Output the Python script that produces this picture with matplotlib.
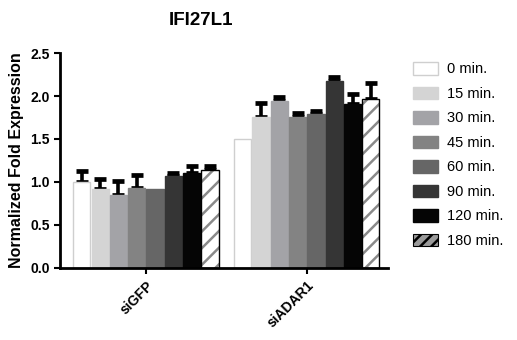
import numpy as np
import matplotlib
matplotlib.use("Agg")
import matplotlib.pyplot as plt
from matplotlib.patches import Patch

plt.rcParams["font.family"] = ["Liberation Sans", "DejaVu Sans"]
plt.rcParams["font.weight"] = "bold"
plt.rcParams["hatch.linewidth"] = 1.8

groups = ["siGFP", "siADAR1"]
timepoints = ["0 min.", "15 min.", "30 min.", "45 min.", "60 min.",
              "90 min.", "120 min.", "180 min."]

# fold expression per timepoint, one entry per group
means = [
    [1.00, 1.50],
    [0.92, 1.76],
    [0.85, 1.94],
    [0.93, 1.76],
    [0.92, 1.79],
    [1.07, 2.17],
    [1.11, 1.91],
    [1.14, 1.97],
]
errors = [
    [0.13, 0.00],
    [0.11, 0.16],
    [0.16, 0.05],
    [0.15, 0.04],
    [0.00, 0.03],
    [0.04, 0.05],
    [0.07, 0.11],
    [0.05, 0.18],
]

faces = ["white", "#d4d4d4", "#a3a3a7", "#838383", "#666666",
         "#353535", "#050505", "white"]
edges = ["#cfcfcf", "#d4d4d4", "#a3a3a7", "#838383", "#666666",
         "#353535", "#050505", "black"]

fig = plt.figure(figsize=(5.17, 3.40), dpi=100)
ax = fig.add_axes([0.116, 0.212, 0.634, 0.632])

step = 0.1137
x = np.arange(len(groups))
for i, (m, e) in enumerate(zip(means, errors)):
    pos = x - 3.5 * step + i * step
    if i == len(means) - 1:
        # hatched last series: gray stripes on white, dark outline
        ax.bar(pos, m, width=step * 0.94, color="white", edgecolor="#8a8a8a",
               hatch="//", linewidth=0, zorder=2)
        ax.bar(pos, m, width=step * 0.94, color="none", edgecolor="black",
               linewidth=1.0, zorder=3)
    else:
        ax.bar(pos, m, width=step * 0.94, color=faces[i], edgecolor=edges[i],
               linewidth=1.0, zorder=2)
    # upward-only error bars: drawn under the bars so the lower cap hides
    e = np.asarray(e)
    keep = e > 0
    ax.errorbar(pos[keep], np.asarray(m)[keep],
                yerr=[np.zeros(keep.sum()), e[keep]], fmt="none",
                ecolor="black", elinewidth=2.6, capsize=4.5, capthick=3.4,
                zorder=1)

ax.set_xlim(-0.534, 1.503)
ax.set_ylim(0, 2.5)
ax.set_yticks([0.0, 0.5, 1.0, 1.5, 2.0, 2.5])
ax.set_yticklabels([f"{v:.1f}" for v in ax.get_yticks()], fontsize=10,
                   fontweight="bold")
ax.set_xticks(x)
ax.set_xticklabels(groups, rotation=45, ha="right", rotation_mode="anchor",
                   fontsize=10, fontweight="bold")
ax.set_ylabel("Normalized Fold Expression", fontsize=11.5, fontweight="bold",
              labelpad=4)

for side in ["top", "right"]:
    ax.spines[side].set_visible(False)
for side in ["left", "bottom"]:
    ax.spines[side].set_linewidth(2)
ax.tick_params(axis="both", width=1.5, length=4, direction="out")

fig.text(0.389, 0.941, "IFI27L1", ha="center", va="center", fontsize=13.5,
         fontweight="bold")

handles = []
for i, lab in enumerate(timepoints):
    if i == len(timepoints) - 1:
        handles.append(Patch(facecolor="#9a9a9a", edgecolor="black",
                             hatch="///", linewidth=0.8, label=lab))
    else:
        handles.append(Patch(facecolor=faces[i], edgecolor=edges[i],
                             linewidth=1.0, label=lab))
leg = fig.legend(handles=handles, loc="upper left",
                 bbox_to_anchor=(0.773, 0.856), frameon=False,
                 prop={"size": 10.5, "weight": "normal"},
                 handlelength=1.75, handleheight=0.95, labelspacing=0.7,
                 handletextpad=0.6)

fig.savefig("out.png", dpi=100)
